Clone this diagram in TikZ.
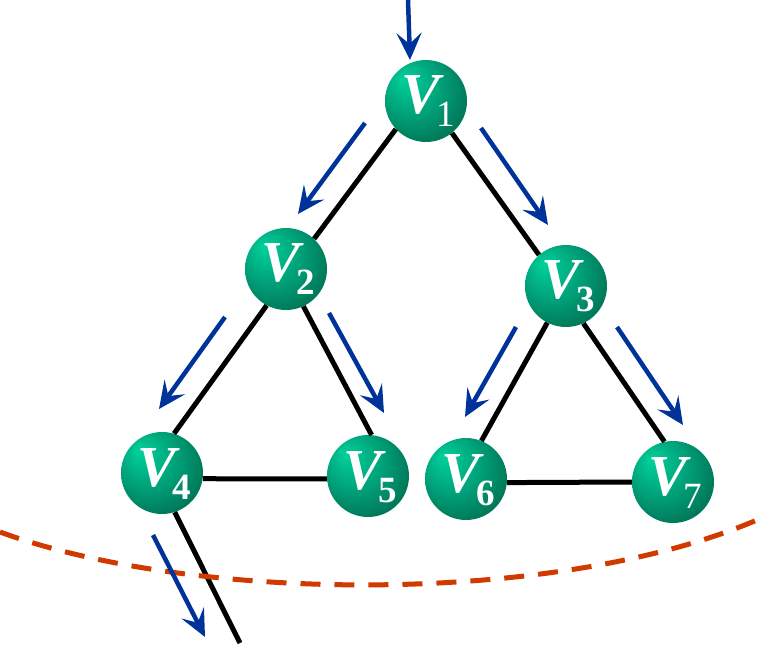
\documentclass[tikz,border=0pt]{standalone}
\usepackage{fontspec}
\setmainfont{Liberation Serif}
\usetikzlibrary{arrows.meta}
\definecolor{flowblue}{RGB}{0,51,153}
\definecolor{cutred}{RGB}{208,58,0}
\definecolor{gA}{RGB}{0,210,155}
\definecolor{gB}{RGB}{0,160,120}
\definecolor{gC}{RGB}{0,118,88}
\definecolor{gD}{RGB}{0,88,64}
\pgfdeclareradialshading{greenball}{\pgfqpoint{-14bp}{14bp}}{color(0bp)=(gA); color(18bp)=(gB); color(32bp)=(gC); color(42bp)=(gD); color(50bp)=(gD)}
\newcommand{\vlab}[2][\bfseries]{%
  \makebox[0pt][l]{\hspace*{-25pt}\raisebox{-13pt}[0pt][0pt]{\fontsize{58}{58}\selectfont\bfseries\itshape V}}%
  \makebox[0pt][l]{\hspace*{10pt}\raisebox{-26pt}[0pt][0pt]{\fontsize{37}{37}\selectfont#1#2}}}
\begin{document}
\begin{tikzpicture}[x=1pt,y=-1pt,
  vertex/.style={circle, minimum size=82pt, inner sep=0pt, shading=greenball, text=white},
  edge/.style={line width=5pt, black},
  flow/.style={line width=4.5pt, flowblue, -{Stealth[length=27pt,width=25pt,inset=11pt]}},
  cut/.style={line width=5pt, cutred, dash pattern=on 20pt off 14pt}]
\useasboundingbox (0,0) rectangle (766,663);

% vertices
\node[vertex] (v1) at (426,101) {\vlab[\mdseries]{1}};
\node[vertex] (v2) at (286,269) {\vlab{2}};
\node[vertex] (v3) at (566,286) {\vlab{3}};
\node[vertex] (v4) at (162,473) {\vlab{4}};
\node[vertex] (v5) at (368,476) {\vlab{5}};
\node[vertex] (v6) at (466,479) {\vlab{6}};
\node[vertex] (v7) at (673,482) {\vlab[\mdseries]{7}};

% edges
\coordinate (out) at (240,643);
\draw[edge] (v1.223) -- (v2.47);
\draw[edge] (v1.309) -- (v3.131);
\draw[edge] (v2.242) -- (v4.73);
\draw[edge] (v2.295) -- (v5.85);
\draw[edge] (v3.243) -- (v6.68);
\draw[edge] (v3.295) -- (v7.102);
\draw[edge] (v4.352) -- (v5.184);
\draw[edge] (v6.355) -- (v7.180);
\draw[edge] (v4.288) -- (out);

% cut line
\coordinate (cutL) at (0,532);
\coordinate (cutR) at (766,516);
\draw[cut] (cutL) .. controls (200,605) and (570,605) .. (cutR);

% flow arrows
\coordinate (a0s) at (408,0);   \coordinate (a0e) at (410,60);
\coordinate (a12s) at (365,123); \coordinate (a12e) at (298,214);
\coordinate (a13s) at (481,128); \coordinate (a13e) at (548,225);
\coordinate (a24s) at (225,317); \coordinate (a24e) at (159,409);
\coordinate (a25s) at (329,313); \coordinate (a25e) at (384,413);
\coordinate (a36s) at (516,327); \coordinate (a36e) at (465,417);
\coordinate (a37s) at (617,327); \coordinate (a37e) at (683,425);
\coordinate (a4s) at (153,535);  \coordinate (a4e) at (205,637);
\draw[flow] (a0s) -- (a0e);
\draw[flow] (a12s) -- (a12e);
\draw[flow] (a13s) -- (a13e);
\draw[flow] (a24s) -- (a24e);
\draw[flow] (a25s) -- (a25e);
\draw[flow] (a36s) -- (a36e);
\draw[flow] (a37s) -- (a37e);
\draw[flow] (a4s) -- (a4e);
\end{tikzpicture}
\end{document}
